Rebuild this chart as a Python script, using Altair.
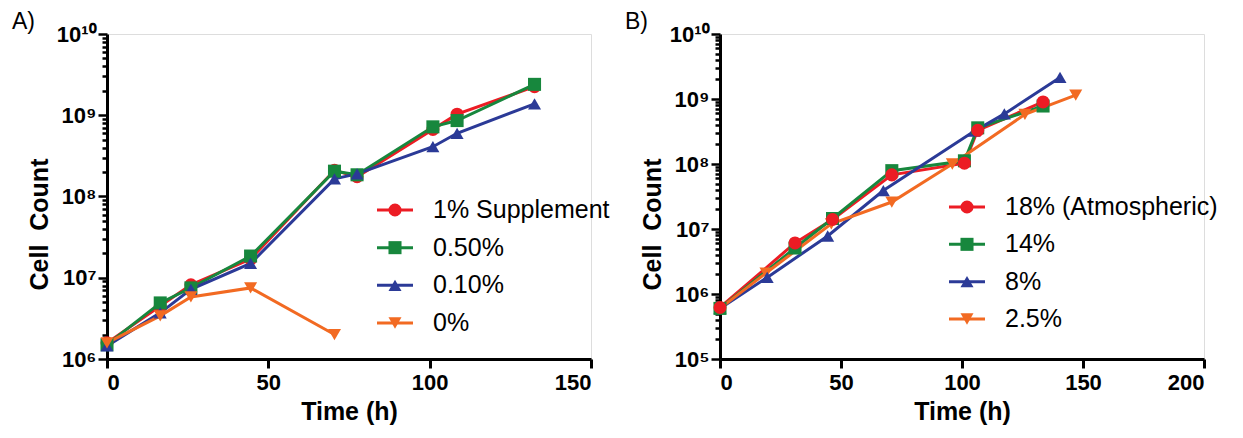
import altair as alt
import pandas as pd

# ---------------- Panel A data ----------------
a_series = ["1% Supplement", "0.50%", "0.10%", "0%"]
a_colors = ["#EC1C24", "#17873D", "#2B3A97", "#F26A22"]
a_t_main = [0, 16.5, 26, 44.5, 70.5, 77.5, 101, 108.5, 132.5]
a_v_red = [1.58e6, 4.5e6, 8.2e6, 1.7e7, 2.1e8, 1.75e8, 6.7e8, 1.03e9, 2.25e9]
a_v_green = [1.5e6, 4.9e6, 7.5e6, 1.85e7, 2.05e8, 1.85e8, 7.2e8, 8.6e8, 2.4e9]
a_v_blue = [1.45e6, 3.7e6, 7.2e6, 1.5e7, 1.65e8, 1.9e8, 4.1e8, 6.0e8, 1.38e9]
a_t_orange = [0, 16.5, 26, 44.5, 70.5]
a_v_orange = [1.58e6, 3.4e6, 5.8e6, 7.5e6, 2.0e6]

# ---------------- Panel B data ----------------
b_series = ["18% (Atmospheric)", "14%", "8%", "2.5%"]
b_colors = ["#EC1C24", "#17873D", "#2B3A97", "#F26A22"]
b_t_red = [0, 31, 46.5, 71, 101, 106.5, 133.5]
b_v_red = [6.2e5, 6.1e6, 1.4e7, 6.8e7, 1.03e8, 3.3e8, 9.0e8]
b_t_green = [0, 31, 46.5, 71, 101, 106.5, 133.5]
b_v_green = [6.0e5, 5.1e6, 1.45e7, 7.9e7, 1.12e8, 3.6e8, 7.8e8]
b_t_blue = [0, 19.5, 44.5, 67.5, 105, 117.5, 140.5]
b_v_blue = [6.0e5, 1.8e6, 7.8e6, 3.9e7, 3.2e8, 5.9e8, 2.15e9]
b_t_orange = [0, 19, 46, 71, 96, 126, 147]
b_v_orange = [6.0e5, 2.1e6, 1.2e7, 2.6e7, 1.0e8, 5.8e8, 1.15e9]

marker_shapes = ["circle", "square", "triangle-up", "triangle-down"]

FONT = "Liberation Sans"
W, H = 484, 325


def frame(series, times, values):
    rows = []
    for i, (s, ts, vs) in enumerate(zip(series, times, values)):
        for t, v in zip(ts, vs):
            rows.append({"series": s, "t": t, "v": v, "k": i})
    return pd.DataFrame(rows)


def log_ticks(lo, hi):
    vals = []
    for n in range(lo, hi):
        for k in range(1, 10):
            vals.append(k * 10 ** n)
    vals.append(10 ** hi)
    return vals


is_major = "abs(log(datum.value)/LN10 - round(log(datum.value)/LN10)) < 0.001"
sup = "['\u2070','\u00b9','\u00b2','\u00b3','\u2074','\u2075','\u2076','\u2077','\u2078','\u2079']"
label_expr = (
    f"{is_major} ? (round(log(datum.value)/LN10) == 10 ? '10\u00b9\u2070' : "
    f"'10' + {sup}[round(log(datum.value)/LN10)]) : ''"
)


def panel(df, series, colors, xmax, ylo, letter, leg_geom, draw_order):
    sym_left, text_left, row_top, row_bottom = leg_geom
    color_scale = alt.Scale(domain=series, range=colors)
    x = alt.X(
        "t:Q",
        scale=alt.Scale(domain=[0, xmax], nice=False, zero=False),
        axis=alt.Axis(
            values=list(range(0, xmax + 1, 50)),
            title="Time (h)",
            grid=False,
            format="d",
            domainColor="black",
            domainWidth=3,
            tickColor="black",
            tickWidth=3,
            tickSize=9,
            labelFont=FONT,
            labelFontSize=22,
            labelFontWeight="bold",
            labelColor="black",
            labelPadding=4,
            titleFont=FONT,
            titleFontSize=25,
            titleFontWeight="bold",
            titleColor="black",
            titlePadding=6,
        ),
    )
    y = alt.Y(
        "v:Q",
        scale=alt.Scale(type="log", domain=[10 ** ylo, 1e10], nice=False),
        axis=alt.Axis(
            values=log_ticks(ylo, 10),
            labelExpr=label_expr,
            title="Cell\u00a0\u00a0Count",
            grid=False,
            domainColor="black",
            domainWidth=3,
            tickColor="black",
            tickWidth=2.5,
            tickSize={"condition": {"test": is_major, "value": 9}, "value": 5},
            labelFont=FONT,
            labelFontSize=22,
            labelFontWeight="bold",
            labelColor="black",
            labelPadding=2,
            labelOverlap=False,
            titleFont=FONT,
            titleFontSize=25,
            titleFontWeight="bold",
            titleColor="black",
            titlePadding=4,
            titleY=190,
        ),
    )
    base = alt.Chart(df)
    lines = base.mark_line(strokeWidth=3).encode(
        x=x,
        y=y,
        color=alt.Color("series:N", scale=color_scale, legend=None),
        order=alt.Order("t:Q"),
    )
    point_layers = []
    for k in draw_order:
        point_layers.append(
            base.transform_filter(alt.datum.series == series[k])
            .mark_point(
                filled=True,
                size=170,
                opacity=1,
                shape=marker_shapes[k],
                color=colors[k],
            )
            .encode(x=x, y=y)
        )

    # legend drawn inside the plot, rows placed by an index scale
    leg_df = pd.DataFrame({"series": series, "idx": list(range(len(series)))})
    ly = alt.Y(
        "idx:Q",
        scale=alt.Scale(domain=[0, len(series) - 1], range=[row_top, row_bottom]),
        axis=None,
    )
    lbase = alt.Chart(leg_df)
    leg_rule = lbase.mark_rule(strokeWidth=3).encode(
        x=alt.value(sym_left),
        x2=alt.value(sym_left + 36),
        y=ly,
        color=alt.Color("series:N", scale=color_scale, legend=None),
    )
    leg_pts = lbase.mark_point(filled=True, size=170, opacity=1).encode(
        x=alt.value(sym_left + 18),
        y=ly,
        color=alt.Color("series:N", scale=color_scale, legend=None),
        shape=alt.Shape(
            "series:N", scale=alt.Scale(domain=series, range=marker_shapes), legend=None
        ),
    )
    leg_txt = lbase.mark_text(
        align="left", baseline="middle", font=FONT, fontSize=25, color="black"
    ).encode(x=alt.value(text_left), y=ly, text="series:N")
    legend = alt.layer(leg_rule, leg_pts, leg_txt)

    main = alt.layer(lines, *point_layers)
    return (
        alt.layer(main, legend)
        .resolve_scale(y="independent")
        .properties(
            width=W,
            height=H,
            title=alt.TitleParams(
                letter,
                anchor="start",
                frame="group",
                dx=-95,
                fontSize=23,
                fontWeight="normal",
                font=FONT,
                color="black",
                offset=-11,
            ),
        )
    )


df_a = frame(
    a_series,
    [a_t_main, a_t_main, a_t_main, a_t_orange],
    [a_v_red, a_v_green, a_v_blue, a_v_orange],
)
df_b = frame(
    b_series,
    [b_t_red, b_t_green, b_t_blue, b_t_orange],
    [b_v_red, b_v_green, b_v_blue, b_v_orange],
)

chart_a = panel(df_a, a_series, a_colors, 150, 6, "A)", (270, 326, 176, 289), [0, 1, 2, 3])
chart_b = panel(df_b, b_series, b_colors, 200, 5, "B)", (229, 285, 173, 285), [3, 2, 1, 0])

chart = (
    alt.hconcat(chart_a, chart_b, spacing=13)
    .resolve_scale(color="independent", shape="independent")
    .properties(padding={"left": 11, "top": 10, "right": 0, "bottom": 0})
    .configure_view(stroke=None)
    .configure(background="white")
)

chart.save("out.html", embed_options={"renderer": "svg", "actions": False})
